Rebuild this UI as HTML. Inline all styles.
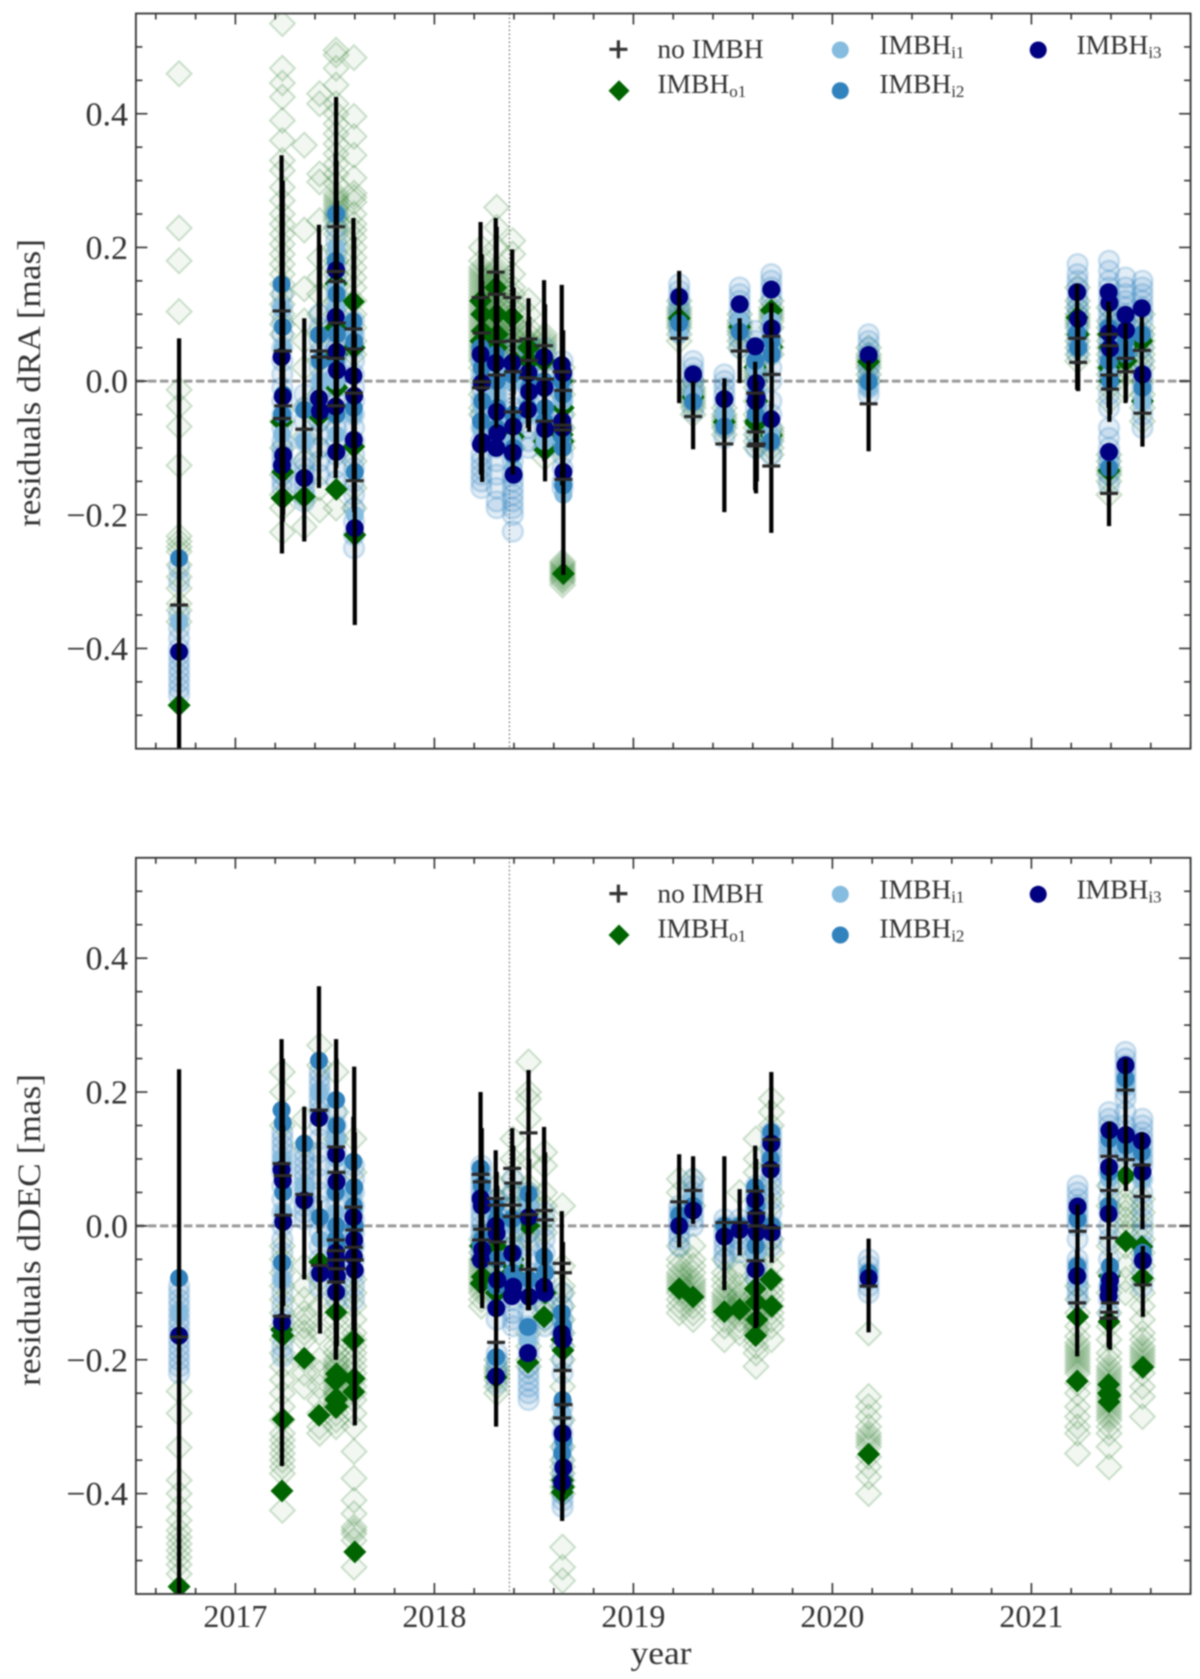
<!DOCTYPE html>
<html lang="en">
<head>
<meta charset="utf-8">
<title>IMBH residuals</title>
<style>
html,body{margin:0;padding:0;background:#fff;}
#chart{display:block;width:1200px;height:1679px;filter:blur(0.8px);}
text{font-family:"Liberation Serif",serif;fill:#333;}
</style>
</head>
<body>
<svg id="chart" xmlns="http://www.w3.org/2000/svg" width="1200" height="1679" viewBox="0 0 1200 1679"></svg>
<script>
/* ---------- shared axis values ---------- */
const xLimits = [2016.5, 2021.8];
const yLimits = [-0.55, 0.55];
const xTickLabels = ["2017", "2018", "2019", "2020", "2021"];
const yTickLabels = ["0.4", "0.2", "0.0", "\u22120.2", "\u22120.4"];
const referenceYear = 2018.377;
const clusterYears = [2016.717,2017.236,2017.346,2017.423,2017.506,2017.596,2018.236,2018.313,2018.394,2018.473,2018.554,2018.644,2019.23,2019.30,2019.457,2019.534,2019.616,2019.693,2020.182,2021.232,2021.39,2021.473,2021.558];

/* ---------- dRA panel ---------- */
const raYears = [2016.717,2017.232,2017.238,2017.24,2017.234,2017.346,2017.42,2017.425,2017.506,2017.504,2017.508,2017.51,2017.504,2017.507,2017.593,2017.597,2017.595,2017.6,2018.232,2018.238,2018.24,2018.234,2018.308,2018.313,2018.316,2018.311,2018.391,2018.396,2018.394,2018.398,2018.473,2018.476,2018.47,2018.551,2018.556,2018.553,2018.64,2018.647,2018.642,2018.645,2018.648,2019.23,2019.3,2019.457,2019.534,2019.612,2019.616,2019.62,2019.615,2019.693,2019.695,2019.693,2020.182,2021.23,2021.235,2021.388,2021.392,2021.39,2021.395,2021.39,2021.473,2021.475,2021.555,2021.558];
const raNoImbh = [-.335,.105,.045,-.037,-.056,-.072,.045,.036,.231,.164,.149,.087,.034,-.037,.078,.048,-.018,-.149,.125,.072,-.001,-.01,.163,.13,.059,.009,.125,.014,-.046,.06,.063,.031,.005,.053,.003,-.06,.014,-.014,-.066,-.073,-.147,.064,-.053,-.094,.045,-.018,-.076,-.094,-.097,.067,.01,-.127,-.034,.064,.028,.07,.053,.009,-.012,-.168,.034,.014,.046,-.048];
const raErrLow = [-.735,-.13,-.21,-.2,-.258,-.24,-.16,-.113,.03,-.02,-.03,-.1,-.145,-.13,-.1,-.196,-.19,-.365,-.03,-.09,-.151,-.14,.01,-.04,-.03,-.07,.03,-.081,-.14,-.02,-.02,-.076,-.07,-.05,-.15,-.12,-.05,-.1,-.156,-.15,-.29,-.033,-.102,-.196,-.003,-.163,-.168,-.15,-.165,.01,-.04,-.227,-.105,-.013,-.015,-.04,-.061,-.04,-.05,-.217,-.033,-.03,-.005,-.098];
const raErrHigh = [.064,.338,.3,.12,.1,.094,.234,.204,.425,.34,.33,.27,.22,.15,.244,.216,.14,.07,.238,.19,.15,.12,.244,.231,.16,.12,.197,.107,.05,.14,.124,.096,.09,.151,.115,0,.144,.076,.042,.01,0,.165,0,.004,.094,.029,0,-.02,-.005,.117,.059,-.03,.031,.146,.09,.119,.11,.06,.05,-.12,.087,.06,.096,0];
const raO1 = [-.485,-.061,-.136,-.175,-.175,-.173,-.053,-.05,.146,.08,.04,-.01,-.05,-.162,.119,.05,-.098,-.23,.12,.1,.075,.06,.14,.1,.07,.05,.096,-.083,-.083,.03,.05,.03,0,.03,-.103,-.09,0,-.04,-.08,-.09,-.288,.094,-.024,-.061,.081,.021,-.063,-.03,-.06,.106,.051,-.081,.029,.095,.07,.07,.05,.02,0,-.134,.05,.03,.06,-.03];
const raI1 = [-.36,.11,.05,-.05,-.08,-.09,.03,0,.2,.14,.11,.04,0,-.08,.09,.07,-.05,-.2,.03,.01,-.04,-.07,.02,-.02,-.05,-.08,0,-.06,-.09,-.13,0,-.02,-.05,-.01,-.05,-.09,-.01,-.03,-.09,-.1,-.17,.07,-.02,-.05,.09,.02,-.01,-.03,-.05,.09,.05,-.08,-.01,.08,.05,.08,.06,.03,.01,-.12,.05,.04,.07,-.03];
const raI2 = [-.265,.145,.081,-.02,-.05,-.043,.069,.03,.25,.18,.13,.07,.03,-.05,.089,.059,-.04,-.136,.05,.02,-.03,-.06,.04,0,-.04,-.07,.01,-.05,-.11,-.1,.01,-.01,-.04,0,-.04,-.06,0,-.02,-.083,-.1,-.156,.087,-.031,-.068,.074,.03,-.02,-.03,-.05,.06,.04,-.09,-.001,.072,.05,.08,.05,.03,0,-.13,.06,.04,.07,-.01];
const raI3 = [-.405,.036,-.023,-.111,-.126,-.145,-.026,-.045,.166,.096,.044,.016,-.038,-.106,.008,-.022,-.088,-.22,.04,-.003,-.091,-.095,.027,-.046,-.078,-.1,.027,-.068,-.107,-.14,.012,-.016,-.043,.036,-.072,-.01,.024,.012,-.06,-.07,-.136,.126,.01,-.027,.115,.052,-.003,-.025,-.03,.137,.079,-.057,.039,.133,.093,.133,.117,.072,.049,-.106,.099,.076,.109,.01];
const raDiamondSamples = [
[.46,.229,.18,.104,-.013,-.037,-.068,-.126,-.232,-.24,-.248,-.255,-.275,-.293,-.31,-.333,-.343,-.36],
[.535,.468,.446,.425,.39,.36,.33,.315,.29,.27,.25,.235,.22,.205,.19,.175,.16,.145,.13,.115,.1,.085,.07,-.06,-.1,-.14,-.17,-.19,-.226],
[.353,.226,.138,.09,.06,.02,-.04,-.083,-.12,-.175,-.218],
[.43,.415,.31,.298,.24,.184,.155,.13,.1,.07,.03,-.02,-.06,-.1,-.16,-.193],
[.495,.488,.468,.443,.415,.4,.385,.37,.355,.34,.325,.31,.295,.28,.275,.27,.265,.26,.255,.25,.245,.24,.23,.22,.2,.18,.16,.14,.12,.1,.08,.06,.04,-.19],
[.484,.396,.366,.338,.304,.281,.275,.268,.25,.235,.226,.215,.2,.185,.17,.155,.14,.12,.1,.08,.06,.04,-.12,-.16,-.19],
[.2,.18,.17,.165,.16,.155,.15,.145,.14,.135,.13,.125,.12,.115,.11,.105,.1,.095,.09,.085,.08,.075,.07,.065,.06,.055,.05,.045,.04,.035,.03,.02,0,-.02,-.04,-.05],
[.26,.23,.2,.17,.165,.16,.155,.15,.145,.14,.135,.13,.125,.12,.115,.11,.105,.1,.095,.09,.085,.08,.075,.07,.065,.06,.055,.05,.045,.04],
[.21,.19,.16,.14,.13,.12,.11,.1,.09,.085,.08,.075,.07,.065,.06,.055,.05,.04,-.06,-.07,-.085,-.1],
[.12,.1,.08,.07,.06,.055,.05,.045,.04,.03,.02],
[.07,.065,.06,.055,.05,.045,.04,.03,.01,-.08,-.09,-.1,-.115],
[.02,0,-.02,-.05,-.07,-.09,-.1,-.27,-.273,-.276,-.279,-.282,-.285,-.288,-.291,-.294,-.297,-.3,-.305],
[.12,.11,.105,.1,.095,.09,.085,.08,.07,.06],
[0,-.01,-.015,-.02,-.025,-.03,-.035,-.04,-.05],
[-.04,-.05,-.055,-.06,-.065,-.07,-.08],
[.1,.09,.085,.08,.075,.07,.06,.05],
[.03,.02,.015,.01,.005,0,-.01,-.03,-.05,-.06,-.07,-.08,-.09,-.1],
[.12,.11,.105,.1,.095,.09,.08,.06,.05,.04,-.07,-.075,-.08,-.085,-.09,-.1,-.11],
[.05,.04,.035,.03,.025,.02,.01,0],
[.14,.12,.11,.1,.095,.09,.085,.08,.07,.06,.05,.04,.03],
[.11,.09,.08,.07,.06,.05,.04,.03,.02,.01,-.01,-.03,-.11,-.12,-.13,-.135,-.14,-.15,-.17],
[.06,.05,.04,.03,.02,.01,-.01],
[.1,.08,.07,.06,.05,.04,.03,.02,0,-.02,-.04,-.06]
];
const raRingSamples = [
[-.28,-.3,-.35,-.37,-.385,-.4,-.41,-.42,-.43,-.44,-.45,-.46,-.47],
[.13,.11,.09,.07,.05,.03,.01,-.01,-.03,-.05,-.07,-.09,-.1,-.11,-.12,-.13,-.14,-.15,-.16],
[-.02,-.04,-.06,-.09,-.12,-.13,-.14,-.15,-.16,-.17,-.18],
[.1,.08,.06,.04,.02,0,-.02,-.04,-.06,-.08,-.1,-.12,-.14],
[.25,.23,.21,.19,.17,.15,.13,.11,.09,.07,.05,.03,.01,-.01,-.03,-.05,-.07,-.09,-.11,-.13,-.15],
[.09,.07,.05,.03,.01,-.01,-.03,-.05,-.07,-.09,-.11,-.13,-.15,-.17,-.19,-.21,-.23,-.25],
[.05,.03,.01,-.01,-.03,-.05,-.07,-.09,-.11,-.12,-.13,-.14,-.15,-.16],
[.06,.04,.02,0,-.02,-.04,-.06,-.08,-.1,-.12,-.14,-.16,-.18,-.19],
[.04,.02,0,-.02,-.04,-.06,-.08,-.1,-.12,-.14,-.15,-.16,-.17,-.18,-.19,-.2,-.225],
[.05,.03,.01,-.01,-.03,-.05,-.07,-.09,-.1],
[.05,.03,.01,-.01,-.03,-.05,-.07,-.09,-.1],
[.03,.01,-.01,-.03,-.05,-.07,-.09,-.11,-.13,-.15,-.16],
[.145,.135,.125,.115,.105,.095,.085,.075],
[.03,.02,.01,0,-.01,-.02,-.03,-.045],
[.01,0,-.01,-.02,-.03,-.05,-.07,-.085],
[.14,.13,.12,.11,.1,.09,.08,.065,.05],
[.075,.06,.05,.04,.02,0,-.02,-.04,-.06,-.08,-.1],
[.16,.15,.14,.13,.12,.1,.08,.06,.04,.02,0,-.03,-.05,-.07,-.09,-.11],
[.07,.06,.05,.04,.03,.02,.01,0,-.01,-.02],
[.175,.16,.15,.14,.13,.12,.11,.1,.09,.08,.07,.06,.05,.04],
[.18,.165,.15,.14,.13,.12,.11,.1,.09,.08,.07,.06,.05,.04,.03,.02,.01,0,-.02,-.04,-.07,-.085,-.1,-.11,-.12,-.13,-.14,-.155],
[.155,.14,.13,.12,.11,.1,.09,.08,.07,.06,.05,.04],
[.15,.14,.13,.12,.11,.1,.09,.07,.05,.03,.01,-.01,-.03,-.05,-.07]
];

/* ---------- dDEC panel ---------- */
const decYears = [2016.717,2017.232,2017.238,2017.24,2017.234,2017.346,2017.42,2017.425,2017.506,2017.508,2017.504,2017.507,2017.505,2017.51,2017.506,2017.593,2017.597,2017.595,2017.6,2018.232,2018.238,2018.24,2018.234,2018.308,2018.313,2018.316,2018.311,2018.31,2018.391,2018.396,2018.394,2018.389,2018.473,2018.476,2018.47,2018.551,2018.556,2018.64,2018.646,2018.644,2018.648,2018.642,2019.23,2019.3,2019.457,2019.534,2019.612,2019.617,2019.62,2019.614,2019.693,2019.69,2019.695,2020.182,2021.232,2021.23,2021.392,2021.39,2021.388,2021.395,2021.39,2021.388,2021.473,2021.475,2021.555,2021.558,2021.56];
const decNoImbh = [-.166,.093,.075,.016,-.135,.047,.173,-.059,.118,.08,-.021,-.037,-.051,-.064,-.084,.028,-.006,-.032,-.051,.077,.066,-.005,-.021,.041,.031,-.024,-.056,-.174,.086,.064,.031,.014,.139,.017,-.065,.023,.009,-.056,-.07,-.216,-.267,-.287,.036,.053,.005,.005,.052,.019,0,-.052,.129,.09,-.003,-.09,-.008,-.115,.104,.053,-.018,-.115,-.129,-.138,.203,.099,.091,.044,-.088];
const decErrLow = [-.566,-.094,-.1,-.12,-.359,-.08,-.011,-.161,-.06,-.1,-.2,-.15,-.16,-.18,-.2,-.156,-.12,-.15,-.298,-.04,-.05,-.123,-.1,-.03,-.05,-.1,-.136,-.3,-.03,-.044,-.069,-.06,.02,-.126,-.126,-.059,-.099,-.16,-.2,-.33,-.4,-.441,-.032,.003,-.096,-.044,-.04,-.1,-.15,-.153,.05,0,-.055,-.159,-.049,-.195,.06,0,-.182,-.185,-.18,-.18,.149,.052,.04,-.005,-.136];
const decErrHigh = [.234,.279,.25,.15,.089,.178,.358,.038,.279,.25,.16,.08,.05,.05,.03,.163,.238,.1,.14,.2,.146,.09,.06,.113,.081,.06,.02,-.04,.146,.12,.107,.09,.233,.1,.05,.148,.11,.022,-.024,-.1,-.15,-.15,.107,.104,.104,.055,.12,.1,.06,.04,.23,.188,.05,-.019,.032,-.036,.156,.1,.09,-.04,-.06,-.09,.25,.149,.14,.09,-.03];
const decO1 = [-.539,-.155,-.164,-.289,-.396,-.198,-.283,-.054,-.129,-.221,-.231,-.258,-.271,-.27,-.26,-.171,-.228,-.248,-.487,-.03,-.05,-.076,-.086,-.03,-.05,-.08,-.1,-.226,.004,-.05,-.06,-.07,0,-.1,-.204,-.136,-.1,-.17,-.186,-.38,-.39,-.398,-.094,-.106,-.128,-.125,-.094,-.114,-.14,-.164,-.08,-.08,-.12,-.341,-.136,-.232,-.075,-.143,-.237,-.253,-.263,-.25,.075,-.023,-.031,-.078,-.211];
const decI1 = [-.13,.1,.09,.02,-.08,.06,.2,-.02,.13,.1,.02,-.02,-.03,-.05,-.06,.05,.02,-.01,-.03,.07,.04,-.02,-.03,.03,0,-.05,-.09,-.2,0,-.05,-.07,-.09,.03,-.09,-.17,-.06,-.07,-.14,-.16,-.28,-.33,-.36,.02,.04,0,0,.05,.02,0,-.04,.13,.1,0,-.08,.02,-.08,.12,.07,.02,-.07,-.09,-.1,.21,.11,.1,.07,-.05];
const decI2 = [-.078,.173,.154,.05,-.055,.123,.247,.013,.188,.15,.05,0,-.02,-.03,-.05,.096,.058,.03,0,.086,.06,-.02,-.03,.03,.01,-.05,-.09,-.196,.01,-.04,-.07,-.08,.048,-.08,-.151,-.046,-.07,-.13,-.15,-.26,-.32,-.34,.016,.03,0,0,.058,.03,.01,-.03,.14,.1,0,-.07,.01,-.06,.13,.08,.03,-.06,-.08,-.09,.22,.12,.11,.08,-.04];
const decI3 = [-.164,.084,.068,.006,-.144,.038,.161,-.071,.107,.066,-.04,-.05,-.06,-.075,-.099,.013,-.021,-.046,-.066,.041,.03,-.036,-.051,0,-.011,-.081,-.123,-.225,-.041,-.091,-.101,-.105,.013,-.106,-.19,-.091,-.1,-.161,-.17,-.31,-.361,-.383,0,.023,-.016,-.006,.039,.013,-.01,-.065,.123,.084,-.01,-.078,.029,-.075,.143,.088,.018,-.081,-.094,-.105,.24,.136,.127,.081,-.052];
const decDiamondSamples = [
[-.247,-.28,-.331,-.38,-.4,-.42,-.44,-.455,-.465,-.475,-.485,-.495,-.506,-.52],
[.23,.2,.15,-.03,-.05,-.07,-.09,-.11,-.13,-.15,-.17,-.19,-.21,-.23,-.25,-.27,-.29,-.31,-.32,-.33,-.34,-.35,-.36,-.37,-.425],
[.16,.12,-.06,-.09,-.11,-.13,-.14,-.15,-.16,-.17,-.2,-.22,-.24],
[.27,.24,-.08,-.12,-.16,-.2,-.22,-.24,-.26,-.28,-.3,-.31],
[.23,.17,.13,-.1,-.12,-.14,-.16,-.18,-.19,-.2,-.205,-.21,-.215,-.22,-.225,-.23,-.235,-.24,-.245,-.25,-.255,-.26,-.265,-.27,-.28,-.29,-.3],
[.13,.08,-.08,-.1,-.12,-.14,-.16,-.17,-.18,-.19,-.2,-.21,-.22,-.23,-.24,-.25,-.26,-.28,-.3,-.337,-.377,-.41,-.43,-.45,-.455,-.46,-.47,-.51],
[-.02,-.03,-.04,-.05,-.055,-.06,-.065,-.07,-.075,-.08,-.085,-.09,-.095,-.1,-.11,-.12],
[.06,.04,0,-.03,-.05,-.2,-.21,-.215,-.22,-.225,-.23,-.24,-.25],
[.13,.1,.07,.05,.03,.01,-.01,-.03],
[.245,.2,.19,.16,.1,.06,.05,.04,.03,.02,.01,0,-.01,-.02,-.16,-.18,-.2,-.21],
[.11,.09,.05,.03,.01,-.01,-.1,-.12,-.13,-.14],
[.03,-.06,-.09,-.1,-.12,-.14,-.16,-.18,-.2,-.24,-.29,-.33,-.35,-.36,-.37,-.38,-.39,-.4,-.48,-.51,-.53],
[.07,.05,-.03,-.05,-.06,-.07,-.075,-.08,-.085,-.09,-.095,-.1,-.11,-.12,-.13],
[.07,.03,-.03,-.05,-.06,-.07,-.08,-.085,-.09,-.095,-.1,-.105,-.11,-.12,-.13,-.14],
[-.05,-.07,-.08,-.09,-.1,-.105,-.11,-.115,-.12,-.125,-.13,-.14,-.15,-.17],
[.05,-.06,-.07,-.09,-.1,-.105,-.11,-.115,-.12,-.125,-.13,-.14,-.15,-.16],
[.13,.1,.08,-.04,-.06,-.08,-.1,-.11,-.12,-.125,-.13,-.135,-.14,-.145,-.15,-.155,-.16,-.17,-.18,-.19,-.21],
[.19,.17,.15,.05,.03,0,-.02,-.04,-.06,-.08,-.09,-.1,-.11,-.12,-.13,-.14,-.15,-.17],
[-.16,-.255,-.27,-.285,-.3,-.31,-.315,-.32,-.325,-.33,-.345,-.36,-.375,-.4],
[-.09,-.11,-.13,-.15,-.165,-.175,-.18,-.185,-.19,-.195,-.2,-.205,-.21,-.215,-.22,-.235,-.25,-.27,-.285,-.3,-.31,-.34],
[.06,.03,-.03,-.07,-.1,-.13,-.15,-.17,-.19,-.2,-.21,-.215,-.22,-.225,-.23,-.235,-.24,-.245,-.25,-.255,-.26,-.265,-.27,-.275,-.28,-.285,-.29,-.3,-.31,-.33,-.36],
[.08,.06,.04,.03,.02,.01,0,-.01,-.03,-.06,-.08,-.1],
[.04,.02,0,-.02,-.04,-.06,-.08,-.1,-.12,-.14,-.16,-.17,-.18,-.185,-.19,-.195,-.2,-.205,-.21,-.22,-.24,-.255,-.285]
];
const decRingSamples = [
[-.09,-.1,-.11,-.12,-.13,-.14,-.15,-.16,-.17,-.18,-.19,-.2,-.21,-.22],
[.14,.13,.12,.11,.1,.09,.08,.06,.04,.02,0,-.02,-.04,-.06,-.08,-.1,-.12,-.14,-.16,-.18,-.195],
[.11,.1,.09,.08,.07,.06,.05,.04,.03,.02,.01],
[.23,.22,.21,.2,.19,.18,.17,.15,.13,.11,.09,.07,.05,.03,.01,-.01,-.03,-.05,-.07,-.09],
[.17,.15,.13,.11,.09,.07,.05,.03,.01,-.01,-.03,-.05,-.07,-.09,-.11],
[.09,.07,.05,.03,.01,-.01,-.03,-.05,-.07,-.09,-.11],
[.09,.08,.07,.06,.05,.04,.03,.02,.01,0,-.01,-.02,-.03,-.04,-.05],
[.04,.02,0,-.02,-.04,-.06,-.08,-.1,-.12,-.14,-.19,-.2,-.21,-.22,-.235],
[.07,.05,.03,.01,-.01,-.03,-.05,-.07,-.09,-.11,-.13,-.14,-.15],
[.05,.03,.01,-.01,-.03,-.05,-.07,-.09,-.11,-.13,-.15,-.17,-.19,-.21,-.22,-.23,-.24,-.25,-.26],
[.02,0,-.02,-.04,-.06,-.08,-.1,-.12,-.14,-.15],
[-.1,-.12,-.14,-.16,-.18,-.2,-.22,-.27,-.29,-.31,-.33,-.35,-.37,-.38,-.39,-.4,-.41,-.42],
[.03,.02,.01,0,-.01,-.02,-.03],
[.07,.06,.05,.04,.03,.02,.01,0],
[.01,0,-.01,-.02,-.03,-.04,-.05],
[.01,0,-.01,-.02,-.03,-.04],
[.06,.05,.04,.03,.02,.01,0,-.02,-.04,-.06,-.07,-.08],
[.14,.13,.12,.11,.1,.09,.08,.07,.06,.04,.02,0,-.02,-.03],
[-.05,-.06,-.07,-.08,-.09,-.1],
[.06,.05,.04,.03,.02,.01,0,-.02,-.05,-.06,-.07,-.08,-.09,-.1,-.11],
[.17,.16,.15,.14,.13,.12,.11,.1,.08,.06,.04,.02,0,-.02,-.05,-.07,-.09,-.11,-.13],
[.26,.25,.24,.23,.22,.21,.2,.19,.17,.15,.14,.13,.12,.11,.1],
[.16,.15,.14,.13,.12,.11,.1,.09,.07,.05,.03,.01,-.01,-.03,-.05,-.07,-.09]
];

/* ---------- helpers ---------- */
const SVG_NS = "http://www.w3.org/2000/svg";
const svg = document.getElementById("chart");
const plotLeft = 135.9, plotRight = 1190.6;
const COLORS = {o1:"#006400", i1:"#85bcdf", i2:"#3182bd", i3:"#000080"};

function make(parent, tag, attrs, text) {
  const el = document.createElementNS(SVG_NS, tag);
  for (const k in attrs) el.setAttribute(k, attrs[k]);
  if (text !== undefined) el.textContent = text;
  parent.appendChild(el);
  return el;
}
function xScale(year) {
  return plotLeft + (year - xLimits[0]) / (xLimits[1] - xLimits[0]) * (plotRight - plotLeft);
}
function yScaleFor(top, bottom) {
  return v => top + (yLimits[1] - v) / (yLimits[1] - yLimits[0]) * (bottom - top);
}
function diamondPoints(cx, cy, r) {
  return (cx - r) + "," + cy + " " + cx + "," + (cy - r) + " " + (cx + r) + "," + cy + " " + cx + "," + (cy + r);
}

function drawLegend(panelTop) {
  const off = panelTop - 13.5;
  const g = make(svg, "g", {});
  
  

  const plusH = make(g, "line", {x1:609.4, x2:627.4, y1:49.3 + off, y2:49.3 + off, stroke:"#333", "stroke-width":3.2});
  
  
  const plusV = make(g, "line", {x1:618.4, x2:618.4, y1:40.3 + off, y2:58.3 + off, stroke:"#333", "stroke-width":3.2});
  
  
  const noText = make(g, "text", {x:657.4, y:58 + off, "font-size":27.5}, "no IMBH");
  
  

  const o1Mark = make(g, "polygon", {points:diamondPoints(619, 90.7 + off, 10.5), fill:COLORS.o1});
  
  
  const i1Mark = make(g, "circle", {cx:840.3, cy:50 + off, r:8.5, fill:COLORS.i1});
  
  
  const i2Mark = make(g, "circle", {cx:840.3, cy:90.7 + off, r:8.5, fill:COLORS.i2});
  
  
  const i3Mark = make(g, "circle", {cx:1038.2, cy:50 + off, r:8.5, fill:COLORS.i3});
  
  

  const labels = [["o1", 657.4, 93], ["i1", 879.4, 54], ["i2", 879.4, 93], ["i3", 1076.5, 54]];
  labels.forEach(item => {
    const t = make(g, "text", {x:item[1], y:item[2] + off, "font-size":27.5});
    
    
    make(t, "tspan", {}, "IMBH");
    make(t, "tspan", {dy:4, "font-size":17}, item[0]);
  });
}

function drawPanel(cfg) {
  const y = yScaleFor(cfg.top, cfg.bottom);
  const panel = make(svg, "g", {});
  
  

  const clipId = cfg.key + "-clip";
  const defs = make(panel, "defs", {});
  const clip = make(defs, "clipPath", {id:clipId});
  make(clip, "rect", {x:plotLeft, y:cfg.top, width:plotRight - plotLeft, height:cfg.bottom - cfg.top});

  const plot = make(panel, "g", {"clip-path":"url(#" + clipId + ")"});

  const zero = make(plot, "line", {x1:plotLeft, x2:plotRight, y1:y(0), y2:y(0), stroke:"#999", "stroke-width":3, "stroke-dasharray":"8.5 3.5"});
  
  

  const ref = make(plot, "line", {x1:xScale(referenceYear), x2:xScale(referenceYear), y1:cfg.top, y2:cfg.bottom, stroke:"#666", "stroke-width":1.2, "stroke-dasharray":"1.5 2.5"});
  
  

  cfg.diamonds.forEach((list, i) => {
    list.forEach(v => {
      const m = make(plot, "polygon", {points:diamondPoints(xScale(clusterYears[i]), y(v), 12.5), fill:"rgba(0,100,0,0.05)", stroke:"rgba(0,100,0,0.19)", "stroke-width":2});
      
      
    });
  });
  cfg.rings.forEach((list, i) => {
    list.forEach(v => {
      const m = make(plot, "circle", {cx:xScale(clusterYears[i]), cy:y(v), r:10, fill:"rgba(49,130,189,0.14)", stroke:"rgba(49,130,189,0.22)", "stroke-width":2.6});
      
      
    });
  });

  cfg.years.forEach((yr, i) => {
    const m = make(plot, "polygon", {points:diamondPoints(xScale(yr), y(cfg.o1[i]), 11.5), fill:COLORS.o1});
    
    
  });
  cfg.years.forEach((yr, i) => {
    const m = make(plot, "circle", {cx:xScale(yr), cy:y(cfg.i1[i]), r:9, fill:COLORS.i1});
    
    
  });
  cfg.years.forEach((yr, i) => {
    const m = make(plot, "circle", {cx:xScale(yr), cy:y(cfg.i2[i]), r:9, fill:COLORS.i2});
    
    
  });
  cfg.years.forEach((yr, i) => {
    const m = make(plot, "circle", {cx:xScale(yr), cy:y(cfg.i3[i]), r:9, fill:COLORS.i3});
    
    
  });
  cfg.years.forEach((yr, i) => {
    const b = make(plot, "line", {x1:xScale(yr), x2:xScale(yr), y1:y(cfg.high[i]), y2:y(cfg.low[i]), stroke:"#000", "stroke-width":4.2});
    
    
  });
  cfg.years.forEach((yr, i) => {
    const p = make(plot, "line", {x1:xScale(yr) - 9, x2:xScale(yr) + 9, y1:y(cfg.plus[i]), y2:y(cfg.plus[i]), stroke:"#2b2b2b", "stroke-width":3.2});
    
    
  });

  /* frame */
  const frame = make(panel, "rect", {x:plotLeft, y:cfg.top, width:plotRight - plotLeft, height:cfg.bottom - cfg.top, fill:"none", stroke:"#333", "stroke-width":1.8});
  
  

  /* x ticks: minor every 0.2 yr, major each labelled year */
  for (let k = 0; k <= 26; k++) {
    const yr = 2016.6 + k * 0.2;
    const isMajor = (k - 2) % 5 === 0;
    const len = isMajor ? 11 : 6;
    const b = make(panel, "line", {x1:xScale(yr), x2:xScale(yr), y1:cfg.bottom, y2:cfg.bottom - len, stroke:"#333", "stroke-width":1.6});
    
    
    const t = make(panel, "line", {x1:xScale(yr), x2:xScale(yr), y1:cfg.top, y2:cfg.top + len, stroke:"#333", "stroke-width":1.6});
    
    
  }
  /* y ticks: minor every 0.05, major every 0.2 */
  for (let k = -10; k <= 10; k++) {
    const v = k * 0.05;
    const isMajor = k % 4 === 0;
    const len = isMajor ? 11.5 : 6.5;
    const l = make(panel, "line", {x1:plotLeft, x2:plotLeft + len, y1:y(v), y2:y(v), stroke:"#333", "stroke-width":1.6});
    
    
    const r = make(panel, "line", {x1:plotRight, x2:plotRight - len, y1:y(v), y2:y(v), stroke:"#333", "stroke-width":1.6});
    
    
  }
  yTickLabels.forEach(label => {
    const v = parseFloat(label.replace("\u2212", "-"));
    const t = make(panel, "text", {x:128, y:y(v) + 11.5, "text-anchor":"end", "font-size":34}, label);
    
    
  });

  const yTitleY = cfg.titleCenter;
  const title = make(panel, "text", {x:40, y:yTitleY, transform:"rotate(-90 40 " + yTitleY + ")", "text-anchor":"middle", "font-size":33, textLength:cfg.titleLength, lengthAdjust:"spacingAndGlyphs"}, cfg.title);
  
  
}

drawPanel({key:"dra", top:13.5, bottom:748.7, title:"residuals dRA [mas]", titleCenter:383, titleLength:288,
  years:raYears, plus:raNoImbh, low:raErrLow, high:raErrHigh, o1:raO1, i1:raI1, i2:raI2, i3:raI3,
  diamonds:raDiamondSamples, rings:raRingSamples});
drawLegend(13.5);
drawPanel({key:"ddec", top:857.8, bottom:1594, title:"residuals dDEC [mas]", titleCenter:1230, titleLength:312,
  years:decYears, plus:decNoImbh, low:decErrLow, high:decErrHigh, o1:decO1, i1:decI1, i2:decI2, i3:decI3,
  diamonds:decDiamondSamples, rings:decRingSamples});
drawLegend(857.8);

xTickLabels.forEach(label => {
  const t = make(svg, "text", {x:xScale(parseFloat(label)), y:1627, "text-anchor":"middle", "font-size":32}, label);
  
  
});
const xTitle = make(svg, "text", {x:661, y:1664, "text-anchor":"middle", "font-size":33, textLength:61, lengthAdjust:"spacingAndGlyphs"}, "year");


</script>
</body>
</html>
